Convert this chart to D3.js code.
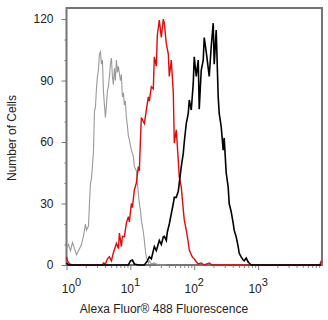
<!DOCTYPE html>
<html><head><meta charset="utf-8">
<script src="https://cdn.jsdelivr.net/npm/d3@7"></script>
<style>body{margin:0;background:#fff}svg{display:block}</style>
</head><body><svg id="c" width="328" height="320"></svg>
<script>
// Fluorescence (x) and cell counts (y) for each histogram
const grayX=[1,1.075,1.155,1.241,1.334,1.433,1.54,1.716,1.843,1.981,2.054,2.207,2.288,2.371,2.458,2.641,2.738,2.838,2.943,3.05,3.162,3.278,3.398,3.523,3.652,3.786,3.924,4.068,4.217,4.372,4.532,4.698,4.87,5.048,5.233,5.425,5.623,5.829,6.043,6.264,6.494,6.978,7.234,7.499,7.774,8.058,8.354,8.66,8.977,9.306,9.647,10.37,11.14,11.55,12.41,12.86,13.34,13.82,14.33,14.86,15.97,16.55,17.16,17.78,19.11,19.81,21.29,23.71,27.38,36.52];
const grayY=[8,10,7,11,8,5,7,10,14,20,17,19,30,40,42,55,75,77,86,92,95,103,104,98,100,85,78,72,78,85,87,92,98,101,92,88,96,90,100,94,97,90,93,82,84,78,80,72,68,63,61,56,53,48,46,40,35,30,27,22,16,12,7,4,1,2,0.5,1,0,0];
const redX=[1,1.037,1.114,1.241,3.652,3.786,4.068,4.372,4.698,5.048,5.425,6.043,6.494,6.732,7.234,7.499,8.058,8.66,9.306,9.647,10.37,10.75,11.55,12.41,13.34,13.82,14.33,14.86,15.97,16.55,17.78,19.11,19.81,21.29,22.88,23.71,25.48,26.41,28.38,30.5,32.78,33.98,36.52,39.24,40.68,43.72,46.98,48.7,52.33,56.23,58.29,62.64,67.32,69.78,74.99,80.58,83.54,93.06,100,107.5,115.5,128.6,143.3,171.6,191.1,9306,9647];
const redY=[4,2,0.5,0,0,1,0.5,3,4,2,6,10.6,8,15.6,9,14,13.8,20.4,23.6,21,30,28,36.6,40,48,46,60,72,70,69,75.6,82,80,87,86,101.6,97,112,119.5,111,120,118,108,103,92,100,84,59.5,66,51,43,38,27,22,17,11,7.3,4,3,1.6,0.5,1,0,1,0,0,2];
const blackX=[1,1.075,9.306,10,10.75,11.55,13.34,16.55,18.43,19.81,21.29,23.71,25.48,28.38,30.5,32.78,33.98,36.52,37.86,40.68,43.72,46.98,48.7,52.33,56.23,58.29,62.64,67.32,69.78,74.99,80.58,83.54,89.77,96.47,100,107.5,115.5,119.7,128.6,138.2,143.3,154,159.7,171.6,184.3,198.1,205.4,220.7,237.1,245.8,264.1,283.8,294.3,316.2,339.8,352.3,378.6,406.8,421.7,453.2,487,504.8,542.5,582.9,604.3,649.4,697.8,723.4,777.4,9647];
const blackY=[1,0,0,2,2.4,0.5,0,0,2,4,3,9,7,12,10,13.8,14,12,16,20,25,30,33,33,36,40,48,54.5,60,69,74,80.5,75.6,88.6,101.6,92,100,76,95,100,111,104,100,92,106.5,118,98,114.6,82,74,67.5,56,62,45,38,30,26,20.4,17,13.8,9,5.8,4,2.4,2,3.4,1.5,1,0,0];
const yMajorTicks=[0,30,60,90,120];
const yMinorTicks=[10,20,40,50,70,80,100,110];
const xMajorTicks=[1,10,100,1000];
const xTickExps=["0","1","2","3"];
const xTitle="Alexa Fluor® 488 Fluorescence";
const yTitle="Number of Cells";

const svg=d3.select("#c");
const L=66.5,R=322,T=8,B=265;
const x=d3.scaleLog().domain([1,10000]).range([L,R]);
const y=d3.scaleLinear().domain([0,125.4]).range([B,T]);
const font="Liberation Sans, Arial, sans-serif";

// minor x ticks
const xMinor=[];
for(let d=1; d<10000; d*=10) for(let m=2;m<=9;m++) xMinor.push(d*m);

const gx=svg.append("g").attr("transform",`translate(0,${B})`);
gx.call(d3.axisBottom(x).tickValues(xMinor).tickSize(3).tickFormat(""));
gx.call(g=>g.selectAll(".tick line").attr("stroke","#8a8a8a"));
const gx2=svg.append("g").attr("transform",`translate(0,${B})`);
gx2.call(d3.axisBottom(x).tickValues(xMajorTicks).tickSize(5).tickFormat(""));
gx2.selectAll(".tick line").attr("stroke","#777");
svg.selectAll(".domain").remove();

const gy=svg.append("g").attr("transform",`translate(${L},0)`);
gy.call(d3.axisLeft(y).tickValues(yMinorTicks).tickSize(2).tickFormat(""));
gy.selectAll(".tick line").attr("stroke","#777");
const gy2=svg.append("g").attr("transform",`translate(${L},0)`);
gy2.call(d3.axisLeft(y).tickValues(yMajorTicks).tickSize(5).tickPadding(8));
gy2.selectAll(".tick line").attr("stroke","#777");
gy2.selectAll("text").attr("font-family",font).attr("font-size",12).attr("fill","#222");
svg.selectAll(".domain").remove();

// x labels 10^n
xMajorTicks.forEach((v,i)=>{
  const t=svg.append("text").attr("x",x(v)+(i===0?5:0)).attr("y",293)
    .attr("text-anchor","middle").attr("font-family",font).attr("font-size",12).attr("fill","#222");
  t.append("tspan").text("10");
  t.append("tspan").attr("dy",-7).attr("font-size",11).text(xTickExps[i]);
});

svg.append("text").attr("x",164).attr("y",313).attr("text-anchor","middle")
  .attr("font-family",font).attr("font-size",12).attr("fill","#222").text(xTitle);
svg.append("text").attr("transform","translate(16,138) rotate(-90)").attr("text-anchor","middle")
  .attr("font-family",font).attr("font-size",12).attr("fill","#222").text(yTitle);

// frame
svg.append("rect").attr("x",L).attr("y",T).attr("width",R-L).attr("height",B-T)
  .attr("fill","none").attr("stroke","#747474").attr("stroke-width",2);

const line=(xs,ys)=>d3.line().x((d,i)=>x(xs[i])).y((d,i)=>y(ys[i]))(ys);
svg.append("path").attr("d",line(grayX,grayY)).attr("fill","none").attr("stroke","#9a9a9a").attr("stroke-width",1.1);
svg.append("path").attr("d",line(redX,redY)).attr("fill","none").attr("stroke","#e00a0a").attr("stroke-width",1.4);
svg.append("path").attr("d",line(blackX,blackY)).attr("fill","none").attr("stroke","#000").attr("stroke-width",1.6);
</script></body></html>
